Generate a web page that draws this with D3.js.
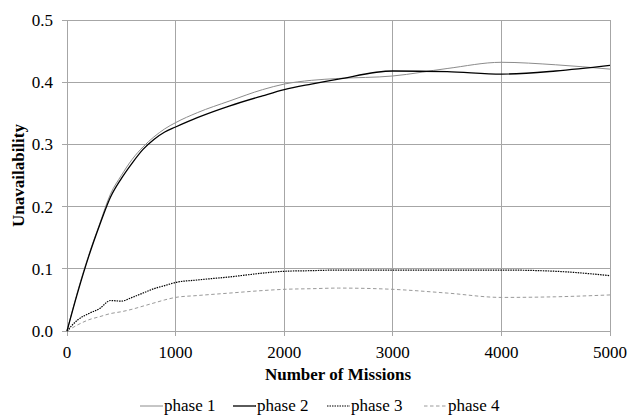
<!DOCTYPE html>
<html><head><meta charset="utf-8">
<script src="https://cdn.jsdelivr.net/npm/d3@7"></script>
<style>body{margin:0;background:#fff}svg{display:block}</style>
</head><body>
<svg id="c" width="629" height="416"></svg>
<script>
const missions = [0, 100, 200, 300, 400, 500, 600, 700, 800, 900, 1000, 1200, 1500, 1800, 2000, 2250, 2500, 3000, 3500, 4000, 4500, 5000];
const phase1 = [0, 0.065, 0.122, 0.172, 0.220, 0.250, 0.276, 0.296, 0.312, 0.325, 0.335, 0.351, 0.370, 0.388, 0.397, 0.403, 0.406, 0.410, 0.422, 0.432, 0.428, 0.421];
const phase2 = [0, 0.063, 0.120, 0.170, 0.215, 0.245, 0.270, 0.292, 0.308, 0.320, 0.328, 0.343, 0.362, 0.378, 0.388, 0.397, 0.405, 0.418, 0.417, 0.413, 0.418, 0.427];
const phase3 = [0, 0.018, 0.028, 0.036, 0.049, 0.048, 0.054, 0.061, 0.068, 0.073, 0.078, 0.082, 0.087, 0.093, 0.096, 0.097, 0.098, 0.098, 0.098, 0.098, 0.096, 0.089];
const phase4 = [0, 0.010, 0.018, 0.023, 0.028, 0.031, 0.035, 0.040, 0.045, 0.050, 0.054, 0.057, 0.061, 0.065, 0.067, 0.068, 0.069, 0.067, 0.061, 0.054, 0.055, 0.058];
const seriesNames = ["phase 1", "phase 2", "phase 3", "phase 4"];
const xTicks = [0, 1000, 2000, 3000, 4000, 5000];
const yTicks = [0, 0.1, 0.2, 0.3, 0.4, 0.5];

const FONT = "Liberation Serif";
const svg = d3.select("#c");
const L = 67, R = 610, T = 20, B = 331;
const x = d3.scaleLinear().domain([0, 5000]).range([L, R]);
const y = d3.scaleLinear().domain([0, 0.5]).range([B, T]);
const grid = "#a6a6a6";

function txt(sel) {
  return sel.attr("font-family", FONT).style("font-family", FONT).attr("font-size", 17).attr("fill", "#000");
}

svg.append("g").selectAll("line").data(xTicks).join("line")
  .attr("x1", d => x(d)).attr("x2", d => x(d)).attr("y1", T).attr("y2", B + 5)
  .attr("stroke", grid).attr("stroke-width", 1).attr("shape-rendering", "crispEdges");
svg.append("g").selectAll("line").data(yTicks).join("line")
  .attr("x1", L - 5).attr("x2", R).attr("y1", d => y(d)).attr("y2", d => y(d))
  .attr("stroke", grid).attr("stroke-width", 1).attr("shape-rendering", "crispEdges");

txt(svg.append("g").selectAll("text").data(yTicks).join("text"))
  .attr("x", L - 14).attr("y", d => y(d) + 6).attr("text-anchor", "end")
  .text(d => d.toFixed(1));
txt(svg.append("g").selectAll("text").data(xTicks).join("text"))
  .attr("x", d => x(d)).attr("y", B + 27).attr("text-anchor", "middle")
  .text(d => d);

txt(svg.append("text")).attr("x", 338).attr("y", B + 49).attr("text-anchor", "middle")
  .attr("font-weight", "bold").text("Number of Missions");
txt(svg.append("text")).attr("transform", `translate(24,${(T + B) / 2}) rotate(-90)`)
  .attr("text-anchor", "middle").attr("font-weight", "bold").text("Unavailability");

const styles = [
  {stroke: "#8c8c8c", width: 1, dash: null},
  {stroke: "#000", width: 1.3, dash: null},
  {stroke: "#000", width: 1.2, dash: "1.5,1"},
  {stroke: "#9a9a9a", width: 1, dash: "3.5,2.5"}
];
const data = [phase1, phase2, phase3, phase4];
const line = d3.line().x((d, i) => x(missions[i])).y(d => y(d)).curve(d3.curveMonotoneX);
[3, 2, 0, 1].forEach(k => {
  svg.append("path").datum(data[k]).attr("d", line).attr("fill", "none")
    .attr("stroke", styles[k].stroke).attr("stroke-width", styles[k].width)
    .attr("stroke-dasharray", styles[k].dash);
});

const legX = [140, 233, 327, 424];
const lg = svg.append("g");
seriesNames.forEach((n, k) => {
  lg.append("line").attr("x1", legX[k]).attr("x2", legX[k] + 23).attr("y1", 406).attr("y2", 406)
    .attr("stroke", styles[k].stroke).attr("stroke-width", styles[k].width).attr("stroke-dasharray", styles[k].dash);
  txt(lg.append("text")).attr("x", legX[k] + 24).attr("y", 411).text(n);
});
</script>
</body></html>
